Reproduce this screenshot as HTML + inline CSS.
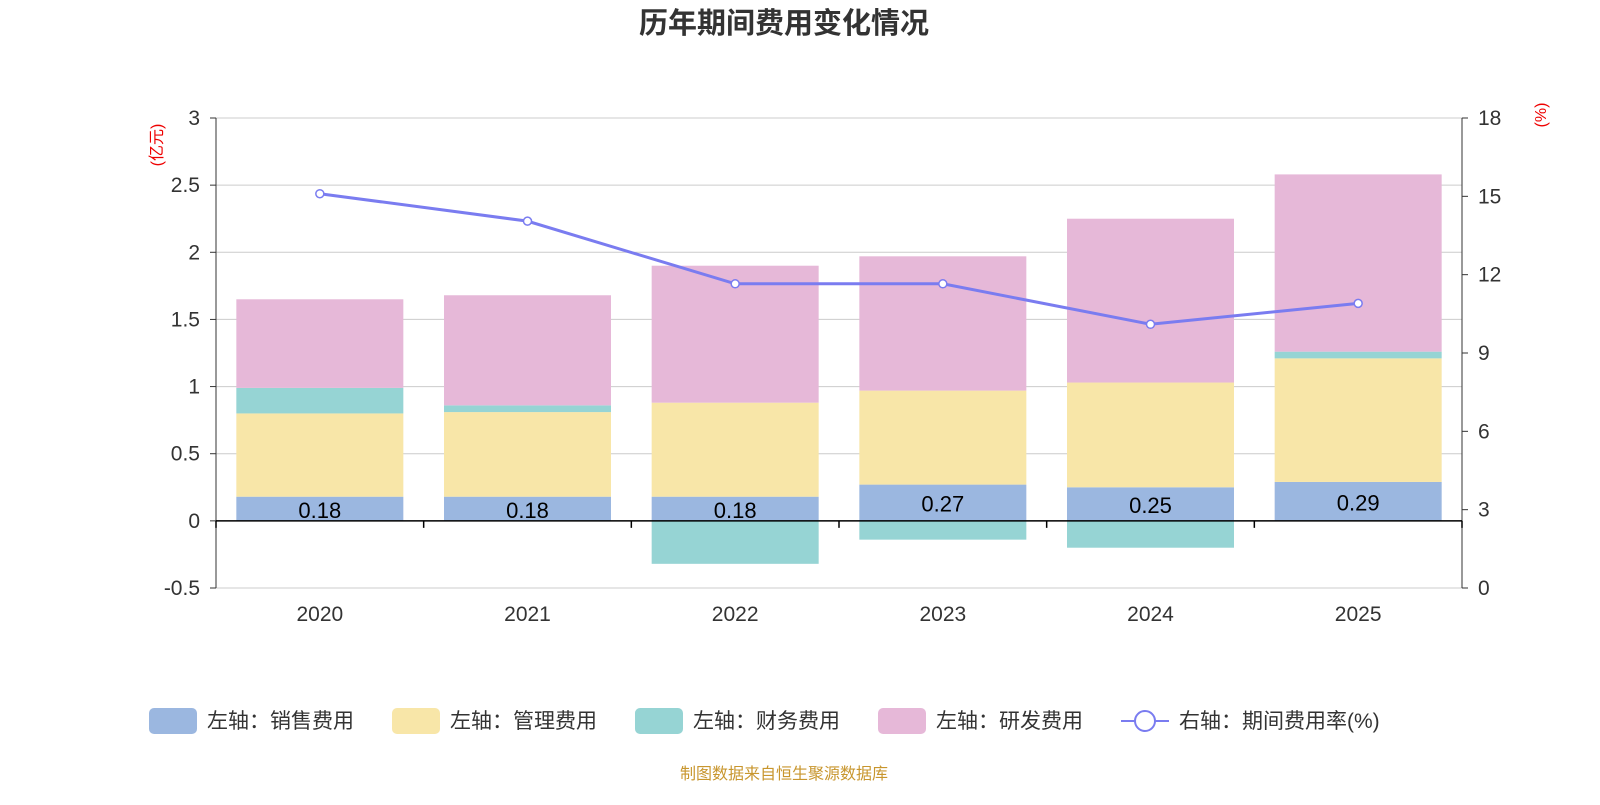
<!DOCTYPE html>
<html><head><meta charset="utf-8"><style>
body{margin:0;background:#fff;font-family:"Liberation Sans","Noto Sans CJK SC",sans-serif}
</style></head><body>
<svg id="c" width="1600" height="800" xmlns="http://www.w3.org/2000/svg" font-family="Liberation Sans, Noto Sans CJK SC, sans-serif">
<text x="784" y="33" text-anchor="middle" font-size="29" font-weight="bold" fill="#333">历年期间费用变化情况</text>
<text x="0" y="0" transform="translate(162,145) rotate(-90)" text-anchor="middle" font-size="16" fill="#e00">(亿元)</text>
<text x="0" y="0" transform="translate(1546,115) rotate(-90)" text-anchor="middle" font-size="16" fill="#e00">(%)</text>
<g id="grid"></g><g id="bars"></g><g id="axes"></g><g id="line"></g>
<g font-size="21" fill="#333">
<g><rect x="149" y="708" width="48" height="26" rx="5" fill="#9bb7e0"/><text x="207" y="728">左轴：销售费用</text></g>
<g><rect x="392" y="708" width="48" height="26" rx="5" fill="#f8e6a8"/><text x="450" y="728">左轴：管理费用</text></g>
<g><rect x="635" y="708" width="48" height="26" rx="5" fill="#96d4d4"/><text x="693" y="728">左轴：财务费用</text></g>
<g><rect x="878" y="708" width="48" height="26" rx="5" fill="#e6b8d8"/><text x="936" y="728">左轴：研发费用</text></g>
<g><line x1="1121" y1="721" x2="1169" y2="721" stroke="#7a7cf0" stroke-width="2"/><circle cx="1145" cy="721" r="10" fill="#fff" stroke="#7a7cf0" stroke-width="2"/><text x="1179" y="728">右轴：期间费用率(%)</text></g>
</g>
<text x="784" y="779" text-anchor="middle" font-size="16" fill="#c8962e">制图数据来自恒生聚源数据库</text>
</svg>
<script>
const years=["2020","2021","2022","2023","2024","2025"];
const sales=[0.18,0.18,0.18,0.27,0.25,0.29];
const mgmt=[0.62,0.63,0.70,0.70,0.78,0.92];
const finance=[0.19,0.05,-0.32,-0.14,-0.20,0.05];
const rd=[0.66,0.82,1.02,1.00,1.22,1.32];
const rate=[15.1,14.05,11.65,11.65,10.1,10.9];
const leftTicks=[-0.5,0,0.5,1,1.5,2,2.5,3];
const rightTicks=[0,3,6,9,12,15,18];
const NS="http://www.w3.org/2000/svg";
const X0=216,X1=1462,T=118,B=588;
const yL=v=>T+(3-v)*(B-T)/3.5;
const yR=v=>B-v*(B-T)/18;
const band=(X1-X0)/years.length;
const xC=i=>X0+band*(i+0.5);
const BW=167;
function mk(p,tag,a){const e=document.createElementNS(NS,tag);for(const k in a)e.setAttribute(k,a[k]);document.getElementById(p).appendChild(e);return e;}
leftTicks.forEach(t=>{
 const g=mk('grid','line',{x1:X0,x2:X1,y1:yL(t),y2:yL(t),stroke:'#ccc','stroke-width':1});
 
 
 const tx=mk('axes','text',{x:200,y:yL(t)+7,'text-anchor':'end','font-size':21,fill:'#333'});tx.textContent=t;
 
 
 mk('axes','line',{x1:X0-6,x2:X0,y1:yL(t),y2:yL(t),stroke:'#333'});
});
rightTicks.forEach(t=>{
 const tx=mk('axes','text',{x:1478,y:yR(t)+7,'font-size':21,fill:'#333'});tx.textContent=t;
 
 
 mk('axes','line',{x1:X1,x2:X1+6,y1:yR(t),y2:yR(t),stroke:'#333'});
});
mk('axes','line',{x1:X0,x2:X0,y1:T,y2:B,stroke:'#333'});
mk('axes','line',{x1:X1,x2:X1,y1:T,y2:B,stroke:'#333'});
mk('axes','line',{x1:X0,x2:X1,y1:yL(0),y2:yL(0),stroke:'#000','stroke-width':1.5});
for(let i=0;i<=years.length;i++) mk('axes','line',{x1:X0+band*i,x2:X0+band*i,y1:yL(0),y2:yL(0)+7,stroke:'#000','stroke-width':1.5});
years.forEach((y,i)=>{
 const tx=mk('axes','text',{x:xC(i),y:621,'text-anchor':'middle','font-size':21,fill:'#333'});tx.textContent=y;
 
 
 let pos=0,neg=0;
 const series=[[sales,'#9bb7e0','bar-sales'],[mgmt,'#f8e6a8','bar-management'],[finance,'#96d4d4','bar-finance'],[rd,'#e6b8d8','bar-rd']];
 series.forEach(([arr,col,name])=>{
  const v=arr[i];let a,b;
  if(v>=0){a=pos;b=pos+v;pos=b;}else{a=neg;b=neg+v;neg=b;}
  const r=mk('bars','rect',{x:xC(i)-BW/2,y:Math.min(yL(a),yL(b)),width:BW,height:Math.abs(yL(a)-yL(b)),fill:col});
  
  
 });
 const lb=mk('line','text',{x:xC(i),y:(yL(0)+yL(sales[i]))/2+9,'text-anchor':'middle','font-size':22,fill:'#000'});lb.textContent=sales[i].toFixed(2);
 
 
});
const pl=mk('line','polyline',{points:rate.map((v,i)=>xC(i)+','+yR(v)).join(' '),fill:'none',stroke:'#7a7cf0','stroke-width':3});


rate.forEach((v,i)=>{
 const c=mk('line','circle',{cx:xC(i),cy:yR(v),r:4,fill:'#fff',stroke:'#7a7cf0','stroke-width':1.5});
 
 
});
</script>
</body></html>
